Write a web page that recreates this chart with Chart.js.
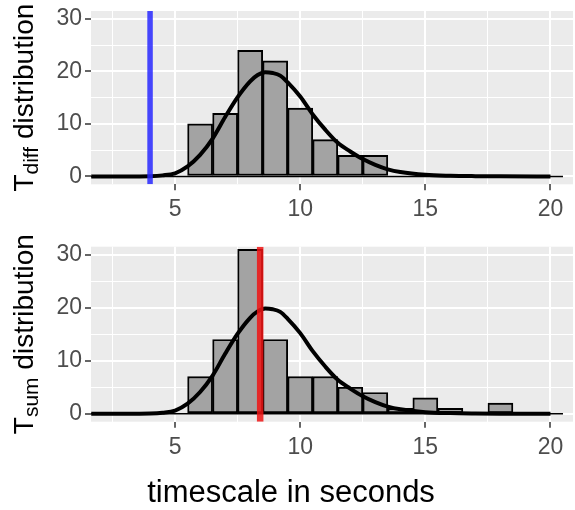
<!DOCTYPE html>
<html>
<head>
<meta charset="utf-8">
<script src="https://cdn.jsdelivr.net/npm/chart.js@4.4.0/dist/chart.umd.min.js"></script>
<style>
  html, body { margin: 0; padding: 0; background: #fff; }
  #wrap { position: relative; width: 575px; height: 510px; }
  .panel { position: absolute; left: 0; width: 575px; }
  #topBox { top: 0; height: 235px; }
  #botBox { top: 235px; height: 275px; }
</style>
</head>
<body>
<div id="wrap">
  <div class="panel" id="topBox"><canvas id="diffChart"></canvas></div>
  <div class="panel" id="botBox"><canvas id="sumChart"></canvas></div>
</div>
<script>
// histogram bins (bin centres, width 1) and counts
const diffBins   = [6, 7, 8, 9, 10, 11, 12, 13];
const diffCounts = [10, 12, 24, 22, 13, 7, 4, 4];
const sumBins    = [6, 7, 8, 9, 10, 11, 12, 13, 14, 15, 16, 17, 18];
const sumCounts  = [7, 14, 31, 14, 7, 7, 5, 4, 1, 3, 1, 0, 2];

// empty bins lie along zero over this range
const histRange = [1.5, 20.5];

// fitted density curve, same in both panels
const densityX = [1.65, 3, 4, 4.5, 5, 5.5, 6, 6.5, 7, 7.5, 8, 8.3, 8.6, 8.9, 9.2, 9.5,
                  10, 10.5, 11, 11.5, 12, 12.5, 13, 13.5, 14, 15, 16, 17, 18, 20];
const densityY = [0, 0, 0.05, 0.2, 0.6, 1.9, 4.1, 7.2, 11.3, 15.1, 18.1, 19.3, 19.85, 19.7, 19.2, 17.9,
                  15.2, 11.8, 8.9, 6.4, 4.75, 3.3, 2.2, 1.35, 0.83, 0.3, 0.12, 0.05, 0.02, 0];

// observed values shown as vertical lines
const diffMark = 4.0;
const sumMark  = 8.4;

// axes
const xTicks  = [2.5, 5, 7.5, 10, 12.5, 15, 17.5, 20];
const xLabels = [5, 10, 15, 20];
const yTicks  = [0, 5, 10, 15, 20, 25, 30];
const yLabels = [0, 10, 20, 30];
const xLimits = [1.64, 20.9];
const yLimits = [-1.5, 31.5];

const ySubs = ['diff', 'sum'];
const xTitle = 'timescale in seconds';

const FONT = '"Liberation Sans", Arial, sans-serif';

// grey panel behind the grid
const panelBg = {
  id: 'panelBg',
  beforeDraw(chart) {
    const { ctx, chartArea: a } = chart;
    ctx.save();
    ctx.fillStyle = '#EBEBEB';
    ctx.fillRect(a.left, a.top, a.right - a.left, a.bottom - a.top);
    ctx.restore();
  }
};

// rotated y title with a subscript, e.g. T_diff distribution
function yTitle(sub) {
  return {
    id: 'yTitle',
    afterDraw(chart) {
      const { ctx, chartArea: a } = chart;
      const big = '28px ' + FONT, small = '21px ' + FONT;
      ctx.save();
      ctx.translate(33, (a.top + a.bottom) / 2);
      ctx.rotate(-Math.PI / 2);
      ctx.fillStyle = '#000';
      ctx.textBaseline = 'alphabetic';
      ctx.font = big;
      const wT = ctx.measureText('T').width;
      const wRest = ctx.measureText(' distribution').width;
      ctx.font = small;
      const wSub = ctx.measureText(sub).width;
      let x = -(wT + wSub + wRest) / 2;
      ctx.font = big; ctx.fillText('T', x, 0); x += wT;
      ctx.font = small; ctx.fillText(sub, x, 5); x += wSub;
      ctx.font = big; ctx.fillText(' distribution', x, 0);
      ctx.restore();
    }
  };
}

// shared x title under the lower panel
const xTitlePlugin = {
  id: 'xTitle',
  afterDraw(chart) {
    const ctx = chart.ctx;
    ctx.save();
    ctx.font = '31px ' + FONT;
    ctx.fillStyle = '#000';
    ctx.textAlign = 'center';
    ctx.textBaseline = 'alphabetic';
    ctx.fillText(xTitle, 291, 266.7);
    ctx.restore();
  }
};

function makeChart(id, bins, counts, mark, markColor, markWidth, padTop, xHeight, plugins) {
  const bars = bins.map((b, i) => ({ x: b, y: counts[i] }));
  const curve = densityX.map((x, i) => ({ x: x, y: densityY[i] }));

  return new Chart(document.getElementById(id), {
    type: 'bar',
    data: {
      datasets: [
        {
          type: 'line',
          data: [{ x: mark, y: yLimits[0] }, { x: mark, y: yLimits[1] }],
          borderColor: markColor,
          borderWidth: markWidth,
          borderCapStyle: 'butt',
          pointRadius: 0,
          order: 0
        },
        {
          type: 'line',
          data: curve,
          borderColor: '#000',
          borderWidth: 4,
          pointRadius: 0,
          cubicInterpolationMode: 'monotone',
          order: 1
        },
        {
          type: 'line',
          data: [{ x: histRange[0], y: 0 }, { x: histRange[1], y: 0 }],
          borderColor: '#000',
          borderWidth: 1.5,
          pointRadius: 0,
          order: 2
        },
        {
          type: 'bar',
          data: bars,
          backgroundColor: '#A3A3A3',
          borderColor: '#000',
          borderWidth: 1.9,
          borderSkipped: false,
          barPercentage: 1,
          categoryPercentage: 1,
          order: 3
        }
      ]
    },
    options: {
      responsive: true,
      maintainAspectRatio: false,
      animation: false,
      layout: { padding: { left: 0, top: padTop, right: 2, bottom: 0 } },
      plugins: { legend: { display: false }, tooltip: { enabled: false } },
      scales: {
        x: {
          type: 'linear',
          min: xLimits[0],
          max: xLimits[1],
          offset: false,
          afterBuildTicks: s => { s.ticks = xTicks.map(v => ({ value: v })); },
          afterFit: s => { s.height = xHeight; s.paddingLeft = 0; s.paddingRight = 0; },
          border: { display: false },
          grid: {
            offset: false,
            color: '#FFFFFF',
            lineWidth: c => xLabels.includes(c.tick.value) ? 2 : 1,
            tickLength: 6,
            tickColor: c => xLabels.includes(c.tick.value) ? '#333333' : 'rgba(0,0,0,0)',
            tickWidth: 1.5
          },
          ticks: {
            autoSkip: false,
            maxRotation: 0,
            padding: 6,
            color: '#4D4D4D',
            font: { family: FONT, size: 23 },
            callback: v => xLabels.includes(v) ? String(v) : ''
          }
        },
        y: {
          type: 'linear',
          min: yLimits[0],
          max: yLimits[1],
          afterBuildTicks: s => { s.ticks = yTicks.map(v => ({ value: v })); },
          afterFit: s => { s.width = 91; s.paddingTop = 0; s.paddingBottom = 0; },
          border: { display: false },
          grid: {
            color: '#FFFFFF',
            lineWidth: c => yLabels.includes(c.tick.value) ? 2 : 1,
            tickLength: 6,
            tickColor: c => yLabels.includes(c.tick.value) ? '#333333' : 'rgba(0,0,0,0)',
            tickWidth: 1.5
          },
          ticks: {
            autoSkip: false,
            padding: 3,
            color: '#4D4D4D',
            font: { family: FONT, size: 23 },
            callback: v => yLabels.includes(v) ? String(v) : ''
          }
        }
      }
    },
    plugins: plugins
  });
}

makeChart('diffChart', diffBins, diffCounts, diffMark, 'rgba(40,40,255,0.85)', 5.5, 11, 50.7,
          [panelBg, yTitle(ySubs[0])]);
makeChart('sumChart', sumBins, sumCounts, sumMark, 'rgba(240,20,20,0.85)', 6.5, 11.7, 88.3,
          [panelBg, yTitle(ySubs[1]), xTitlePlugin]);
</script>
</body>
</html>
